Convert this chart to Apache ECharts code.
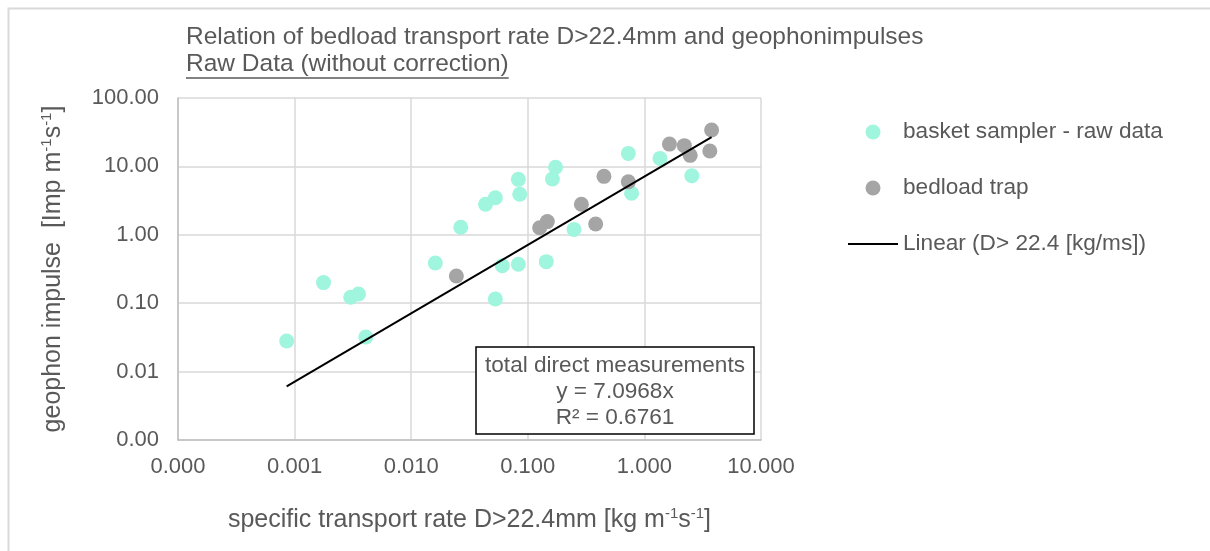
<!DOCTYPE html>
<html>
<head>
<meta charset="utf-8">
<script src="https://cdn.jsdelivr.net/npm/echarts@6/dist/echarts.min.js"></script>
<style>
html,body{margin:0;padding:0;background:#fff;}
#chart{width:1210px;height:551px;}
</style>
</head>
<body>
<div id="chart"></div>
<script>
// ---- data ----
const basketX = [0.000855, 0.00177, 0.00303, 0.00353, 0.00408, 0.0161, 0.0266, 0.0434, 0.0527, 0.0527, 0.0605, 0.083, 0.0853, 0.083, 0.144, 0.1626, 0.173, 0.249, 0.728, 0.776, 1.36, 2.55];
const basketY = [0.028, 0.20, 0.122, 0.136, 0.032, 0.387, 1.29, 2.79, 3.48, 0.115, 0.353, 6.47, 3.91, 0.371, 0.405, 6.55, 9.7, 1.2, 15.5, 4.05, 13.1, 7.3];
const trapX = [0.0244, 0.1264, 0.147, 0.288, 0.382, 0.45, 0.728, 1.64, 2.2, 2.47, 3.77, 3.64];
const trapY = [0.25, 1.27, 1.56, 2.79, 1.44, 7.16, 5.97, 21.2, 20.1, 14.5, 34, 16.8];
const trendSlope = 7.0968;
const xTickValues = [0.0001, 0.001, 0.01, 0.1, 1, 10];
const yTickValues = [0.001, 0.01, 0.1, 1, 10, 100];
const seriesNames = ['basket sampler - raw data', 'bedload trap', 'Linear (D> 22.4 [kg/ms])'];
const titleLines = ['Relation of bedload transport rate D>22.4mm and geophonimpulses', 'Raw Data (without correction)'];
const boxLines = ['total direct measurements', 'y = 7.0968x', 'R² = 0.6761'];

const FONT = 'Liberation Sans, Arial, sans-serif';
const FS = 22;     // tick labels
const FL = 22.6;   // legend + text box
const FT = 24.5;   // title
const FN = 25;     // axis names
const TXT = '#595959';

const basketData = basketX.map((x, i) => [x, basketY[i]]);
const trapData = trapX.map((x, i) => [x, trapY[i]]);
const allX = basketX.concat(trapX);
const tMin = Math.min(...allX), tMax = Math.max(...allX);
const trendData = [[tMin, trendSlope * tMin], [tMax, trendSlope * tMax]];

// measure subtitle width for the underline
const cv = document.createElement('canvas').getContext('2d');
cv.font = FT + 'px ' + FONT;
const subW = cv.measureText(titleLines[1]).width;

const nameRich = {
  n: {fontSize: FN, color: TXT, fontFamily: FONT, lineHeight: 28},
  s: {fontSize: 15, color: TXT, fontFamily: FONT, verticalAlign: 'top', lineHeight: 28}
};

const chart = echarts.init(document.getElementById('chart'), null, {renderer: 'canvas'});
const option = {
  animation: false,
  backgroundColor: '#fff',
  textStyle: {fontFamily: FONT},
  grid: {left: 178, top: 98, right: 449, bottom: 111, containLabel: false},
  xAxis: {
    type: 'log', logBase: 10, min: xTickValues[0], max: xTickValues[xTickValues.length - 1],
    name: '{n|specific transport rate D>22.4mm [kg m}{s|-1}{n|s}{s|-1}{n|]}',
    nameLocation: 'middle', nameGap: 66,
    nameTextStyle: {rich: nameRich},
    axisLine: {lineStyle: {color: '#bfbfbf', width: 1.5}},
    axisTick: {show: false},
    splitLine: {show: true, lineStyle: {color: '#d9d9d9', width: 1.5}},
    minorTick: {show: false},
    axisLabel: {color: TXT, fontSize: FS, fontFamily: FONT, margin: 16,
      formatter: v => Number(v).toFixed(3)}
  },
  yAxis: {
    type: 'log', logBase: 10, min: yTickValues[0], max: yTickValues[yTickValues.length - 1],
    name: '{n|geophon impulse  [Imp m}{s|-1}{n|s}{s|-1}{n|]}',
    nameLocation: 'middle', nameGap: 111, nameRotate: 90,
    nameTextStyle: {rich: nameRich},
    axisLine: {show: true, lineStyle: {color: '#bfbfbf', width: 1.5}},
    axisTick: {show: false},
    splitLine: {show: true, lineStyle: {color: '#d9d9d9', width: 1.5}},
    axisLabel: {color: TXT, fontSize: FS, fontFamily: FONT, margin: 19,
      formatter: v => Number(v).toFixed(2)}
  },
  legend: {
    orient: 'vertical', left: 843, top: 115,
    itemWidth: 50, itemHeight: 15, itemGap: 32,
    symbolKeepAspect: true,
    textStyle: {color: TXT, fontSize: FL, fontFamily: FONT, lineHeight: 24},
    data: [
      {name: seriesNames[0], icon: 'circle'},
      {name: seriesNames[1], icon: 'circle'},
      {name: seriesNames[2], icon: 'path://M0,0H100V4H0Z'}
    ]
  },
  series: [
    {name: seriesNames[0], type: 'scatter', data: basketData, symbolSize: 15,
      itemStyle: {color: '#9ff5dd', opacity: 1}, z: 2},
    {name: seriesNames[1], type: 'scatter', data: trapData, symbolSize: 15,
      itemStyle: {color: '#a5a5a5', opacity: 1}, z: 3},
    {name: seriesNames[2], type: 'line', data: trendData, symbol: 'none', showSymbol: false,
      lineStyle: {color: '#000', width: 2}, itemStyle: {color: '#000'}, z: 4}
  ],
  graphic: [
    {type: 'rect', left: 6, top: 6, shape: {width: 1400, height: 800}, silent: true, z: -10,
      style: {fill: 'none', stroke: '#d9d9d9', lineWidth: 2}},
    {type: 'text', z: 10, x: 186, y: 37,
      style: {text: titleLines[0], fill: TXT, font: FT + 'px ' + FONT, verticalAlign: 'middle'}},
    {type: 'text', z: 10, x: 186, y: 64,
      style: {text: titleLines[1], fill: TXT, font: FT + 'px ' + FONT, verticalAlign: 'middle'}},
    {type: 'line', z: 10, shape: {x1: 186, y1: 78, x2: 186 + subW, y2: 78},
      style: {stroke: TXT, lineWidth: 1.5}},
    {type: 'rect', z: 20, shape: {x: 476, y: 347, width: 278, height: 87},
      style: {fill: '#fff', stroke: '#000', lineWidth: 1.5}},
    {type: 'text', z: 21, x: 615, y: 366,
      style: {text: boxLines[0], fill: TXT, font: FL + 'px ' + FONT, align: 'center', verticalAlign: 'middle'}},
    {type: 'text', z: 21, x: 615, y: 392,
      style: {text: boxLines[1], fill: TXT, font: FL + 'px ' + FONT, align: 'center', verticalAlign: 'middle'}},
    {type: 'text', z: 21, x: 615, y: 418,
      style: {text: boxLines[2], fill: TXT, font: FL + 'px ' + FONT, align: 'center', verticalAlign: 'middle'}}
  ]
};
chart.setOption(option);
</script>
</body>
</html>
